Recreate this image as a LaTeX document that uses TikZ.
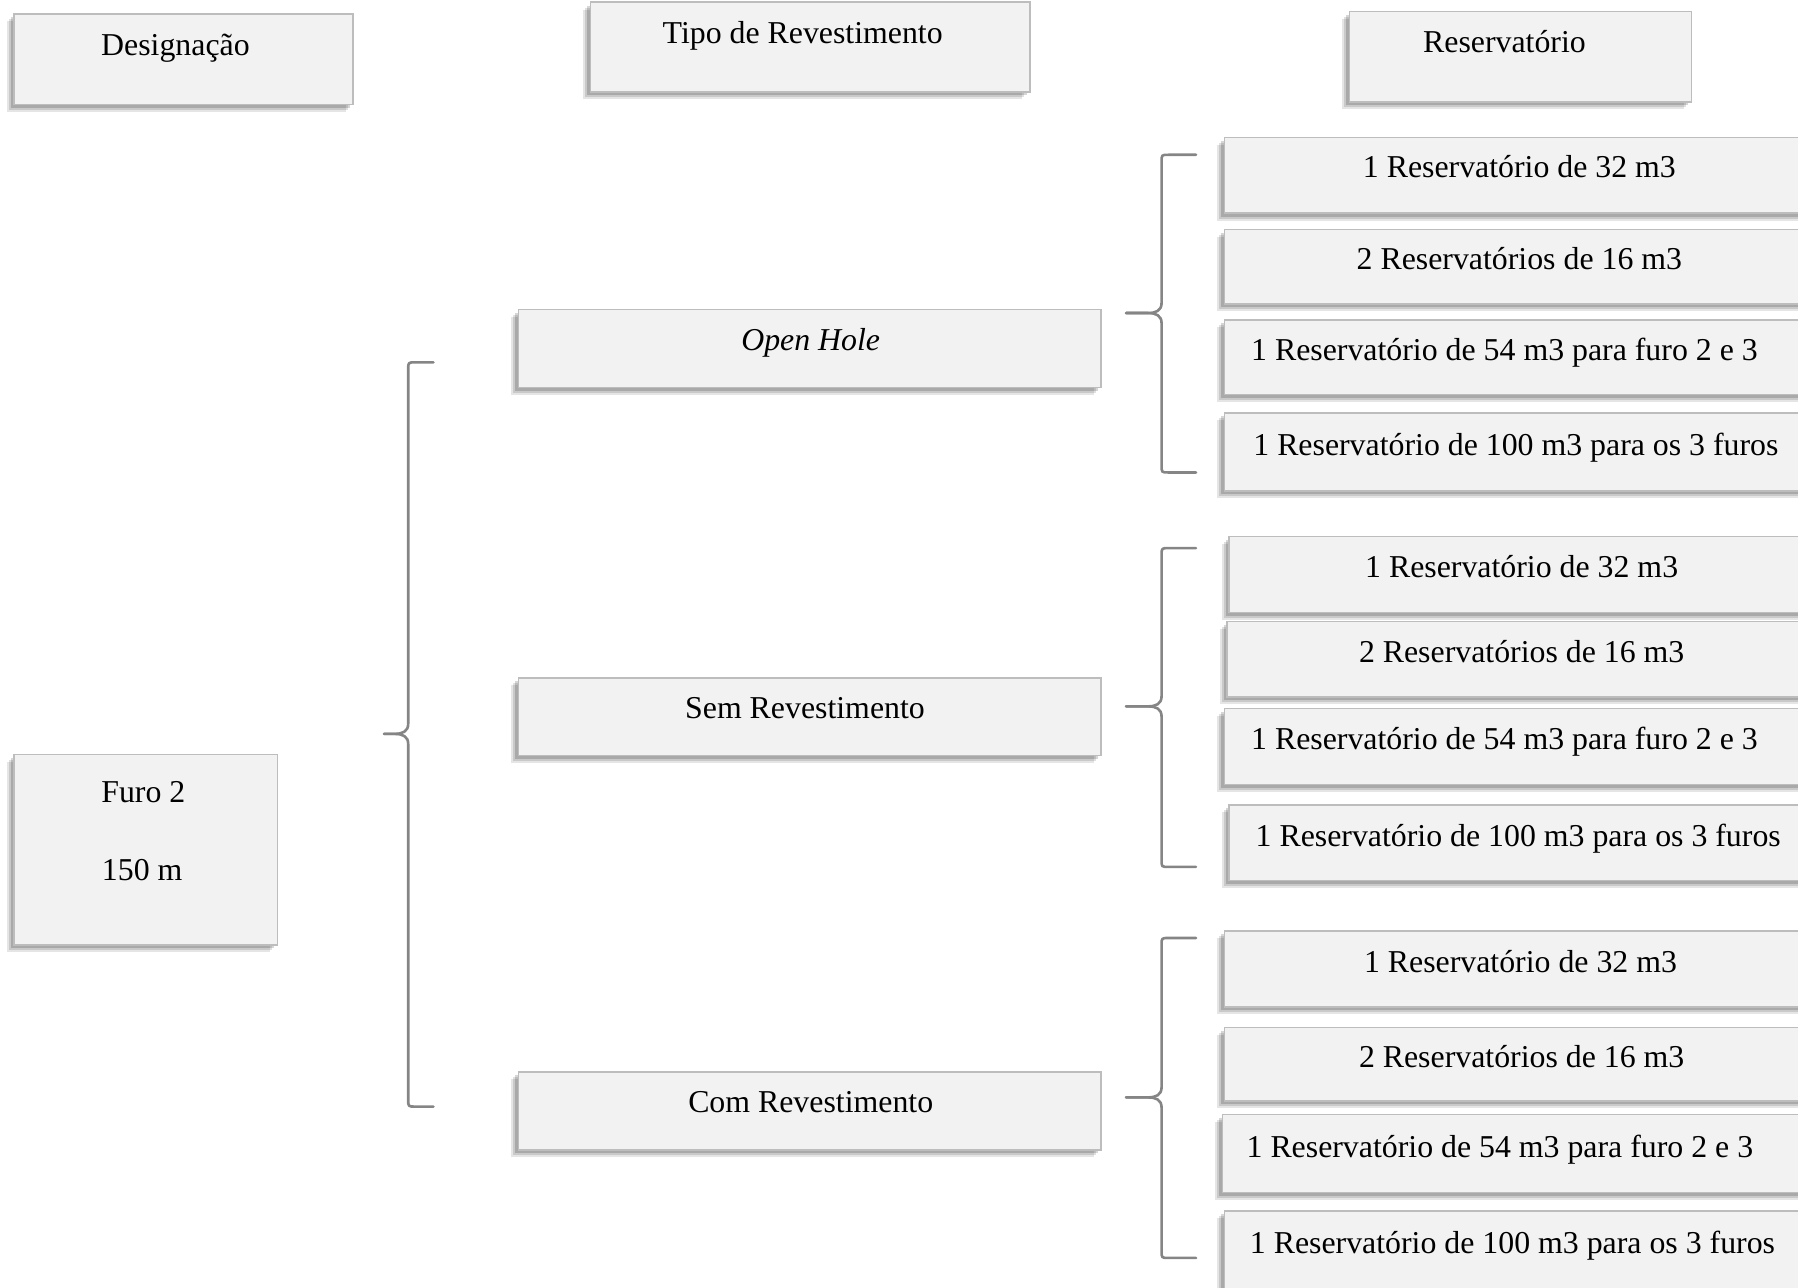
\documentclass[tikz,border=0pt]{standalone}
\usepackage{fontspec}
\setmainfont{Liberation Serif}
\usetikzlibrary{fit,shadows}

\definecolor{boxfill}{HTML}{F2F2F2}
\definecolor{boxline}{HTML}{BDBDBD}
\definecolor{bracecol}{HTML}{858585}

\tikzset{
  softshadow/.style={
    general shadow={fill=black, opacity=.10, shadow xshift=-3.6pt, shadow yshift=-3.6pt},
    general shadow={fill=black, opacity=.12, shadow xshift=-2.6pt, shadow yshift=-2.6pt},
    general shadow={fill=black, opacity=.16, shadow xshift=-1.6pt, shadow yshift=-1.6pt}},
  card/.style={rectangle, fill=boxfill, draw=boxline, line width=0.8pt,
    inner sep=0pt, softshadow},
  txt/.style={anchor=base, inner sep=0pt,
    font=\fontsize{15.8pt}{19pt}\selectfont},
  brc/.style={draw=bracecol, line width=1.3pt, line cap=round, line join=round},
}

% box from its corners (left, top) and (right, bottom)
\newcommand\card[5]{\node[card, fit={(#2,#3) (#4,#5)}] (#1) {};}
% curly brace: end x, spine x, tip x, top y, middle y, bottom y
\newcommand\curly[7]{%
  \coordinate (#1-top) at (#2,#5);
  \coordinate (#1-tip) at (#4,#6);
  \coordinate (#1-bot) at (#2,#7);
  \draw[brc] (#1-top) -- (#3+6,#5) .. controls (#3,#5) .. (#3,#5+6)
     -- (#3,#6-9) .. controls (#3,#6-2) and (#3-5,#6) .. (#3-12,#6) -- (#1-tip);
  \draw[brc] (#1-tip) -- (#3-12,#6) .. controls (#3-5,#6) and (#3,#6+2) .. (#3,#6+9)
     -- (#3,#7-6) .. controls (#3,#7) .. (#3+6,#7) -- (#1-bot);
}

\begin{document}
\begin{tikzpicture}[x=0.02cm, y=-0.02cm]
\useasboundingbox (0,0) rectangle (1568,1123);

% column headings
\card{des}{12}{12}{308}{91}
\card{tipo}{515}{2}{898}{80}
\card{res}{1177}{10}{1475}{89}
\node[txt] (des-t)  at (153,48)  {Designação};
\node[txt] (tipo-t) at (700,38)  {Tipo de Revestimento};
\node[txt] (res-t)  at (1312,46) {Reservatório};

% hole
\card{furo}{12}{658}{242}{824}
\node[txt] (furo-t1) at (125,700) {Furo 2};
\node[txt] (furo-t2) at (124,768) {150 m};

% casing types
\card{open}{452}{270}{960}{338}
\card{sem}{452}{591}{960}{659}
\card{com}{452}{935}{960}{1003}
\node[txt] (open-t) at (707,306) {\itshape Open Hole};
\node[txt] (sem-t)  at (702,627) {Sem Revestimento};
\node[txt] (com-t)  at (707,970) {Com Revestimento};

% reservoirs, open hole
\card{g1a}{1068}{120}{1582}{186}
\card{g1b}{1068}{200}{1582}{265}
\card{g1c}{1068}{279}{1582}{344}
\card{g1d}{1068}{360}{1582}{428}
\node[txt] (g1a-t) at (1325,155) {1 Reservatório de 32 m3};
\node[txt] (g1b-t) at (1325,235) {2 Reservatórios de 16 m3};
\node[txt] (g1c-t) at (1312,314) {1 Reservatório de 54 m3 para furo 2 e 3};
\node[txt] (g1d-t) at (1322,397) {1 Reservatório de 100 m3 para os 3 furos};

% reservoirs, without casing
\card{g2a}{1072}{468}{1582}{534}
\card{g2b}{1070}{542}{1582}{608}
\card{g2c}{1068}{618}{1582}{684}
\card{g2d}{1072}{702}{1582}{768}
\node[txt] (g2a-t) at (1327,504) {1 Reservatório de 32 m3};
\node[txt] (g2b-t) at (1327,578) {2 Reservatórios de 16 m3};
\node[txt] (g2c-t) at (1312,654) {1 Reservatório de 54 m3 para furo 2 e 3};
\node[txt] (g2d-t) at (1324,738) {1 Reservatório de 100 m3 para os 3 furos};

% reservoirs, with casing
\card{g3a}{1068}{812}{1582}{878}
\card{g3b}{1068}{896}{1582}{960}
\card{g3c}{1066}{972}{1582}{1040}
\card{g3d}{1068}{1056}{1582}{1126}
\node[txt] (g3a-t) at (1326,848)  {1 Reservatório de 32 m3};
\node[txt] (g3b-t) at (1327,931)  {2 Reservatórios de 16 m3};
\node[txt] (g3c-t) at (1308,1009) {1 Reservatório de 54 m3 para furo 2 e 3};
\node[txt] (g3d-t) at (1319,1093) {1 Reservatório de 100 m3 para os 3 furos};

% braces
\curly{bfuro}{378}{356}{335}{316}{640}{965}
\curly{bopen}{1043}{1013}{982}{135}{273}{412}
\curly{bsem}{1043}{1013}{982}{478}{616}{756}
\curly{bcom}{1043}{1013}{982}{818}{957}{1097}
\end{tikzpicture}
\end{document}
